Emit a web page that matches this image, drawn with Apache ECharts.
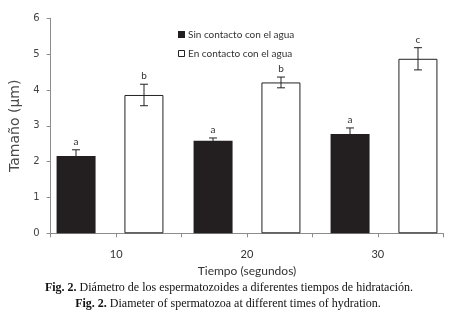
<!DOCTYPE html>
<html>
<head>
<meta charset="utf-8">
<script src="https://cdn.jsdelivr.net/npm/echarts@6/dist/echarts.min.js"></script>
<style>
  html, body { margin: 0; padding: 0; background: #fff; }
  #chart { width: 465px; height: 327px; }
</style>
</head>
<body>
<div id="chart"></div>
<script>
// datos
const categories = ['10', '20', '30'];
const sinContacto = [2.16, 2.58, 2.77];
const sinContactoErr = [0.17, 0.08, 0.17];
const sinContactoLetras = ['a', 'a', 'a'];
const enContacto = [3.86, 4.21, 4.87];
const enContactoErr = [0.30, 0.15, 0.31];
const enContactoLetras = ['b', 'b', 'c'];
const yTicks = [0, 1, 2, 3, 4, 5, 6];

const chart = echarts.init(document.getElementById('chart'));

const barW = 39;
const half = (barW + 29) / 2; // distancia del centro de grupo al centro de barra

const errData = [];
categories.forEach((c, i) => {
  errData.push([i, sinContacto[i], sinContactoErr[i], -1, sinContactoLetras[i]]);
  errData.push([i, enContacto[i], enContactoErr[i], 1, enContactoLetras[i]]);
});

const gray = '#8c8c8c';

const option = {
  backgroundColor: '#fff',
  animation: false,
  grid: [
    // barras
    { left: 41.5, right: 12.5, top: 18.3, bottom: 93.7 },
    // ejes visibles
    { left: 50.7, right: 21.7, top: 18.3, bottom: 93.7 }
  ],
  xAxis: [
    { gridIndex: 0, type: 'category', data: categories, show: false },
    {
      gridIndex: 1, type: 'value', min: 0, max: 6, interval: 1,
      axisLine: { show: true, lineStyle: { color: gray, width: 1 } },
      axisTick: { show: true, length: 4, lineStyle: { color: gray } },
      splitLine: { show: false },
      axisLabel: {
        margin: 16, color: '#333', fontFamily: 'Lato', fontSize: 11,
        formatter: v => (v % 2 === 1 ? categories[(v - 1) / 2] : '')
      },
      name: 'Tiempo (segundos)', nameLocation: 'middle', nameGap: 28,
      nameTextStyle: { color: '#333', fontFamily: 'Lato', fontSize: 12 }
    }
  ],
  yAxis: [
    { gridIndex: 0, type: 'value', min: 0, max: 6, show: false },
    {
      gridIndex: 1, type: 'value', min: 0, max: 6, interval: 1,
      axisLine: { show: true, lineStyle: { color: gray, width: 1 } },
      axisTick: { show: true, length: 4, lineStyle: { color: gray } },
      splitLine: { show: false },
      axisLabel: {
        margin: 11, color: '#444', fontFamily: 'DejaVu Sans', fontSize: 10,
        formatter: v => (yTicks.includes(v) ? String(v) : '')
      },
      name: 'Tamaño (µm)', nameLocation: 'middle', nameGap: 26, nameRotate: 90,
      nameTextStyle: { color: '#4a4a4a', fontFamily: 'DejaVu Sans', fontSize: 14 }
    }
  ],
  series: [
    {
      name: 'Sin contacto con el agua', type: 'bar', xAxisIndex: 0, yAxisIndex: 0,
      data: sinContacto, barWidth: barW, barGap: '74%',
      itemStyle: { color: '#231f20' }
    },
    {
      name: 'En contacto con el agua', type: 'bar', xAxisIndex: 0, yAxisIndex: 0,
      data: enContacto, barWidth: barW,
      itemStyle: { color: '#fff', borderColor: '#222', borderWidth: 1 }
    },
    {
      type: 'custom', xAxisIndex: 0, yAxisIndex: 0, z: 10,
      data: errData,
      renderItem: (params, api) => {
        const idx = api.value(0), v = api.value(1), e = api.value(2), s = api.value(3);
        const hi = api.coord([idx, v + e]);
        const lo = api.coord([idx, v - e]);
        const x = hi[0] + s * half;
        const cap = 4;
        const st = { stroke: '#222', lineWidth: 1 };
        return {
          type: 'group',
          children: [
            { type: 'line', shape: { x1: x, y1: hi[1], x2: x, y2: lo[1] }, style: st },
            { type: 'line', shape: { x1: x - cap, y1: hi[1], x2: x + cap, y2: hi[1] }, style: st },
            { type: 'line', shape: { x1: x - cap, y1: lo[1], x2: x + cap, y2: lo[1] }, style: st },
            {
              type: 'text', x: x, y: hi[1] - 3,
              style: {
                text: errData[params.dataIndex][4], fill: '#333',
                font: '10px Lato', align: 'center', verticalAlign: 'bottom'
              }
            }
          ]
        };
      }
    }
  ],
  graphic: [
    { type: 'rect', shape: { x: 178, y: 31, width: 7, height: 7 }, style: { fill: '#231f20' } },
    { type: 'text', x: 188, y: 35, style: { text: 'Sin contacto con el agua', font: '10px Lato', fill: '#333', verticalAlign: 'middle' } },
    { type: 'rect', shape: { x: 178.5, y: 50.5, width: 6, height: 6 }, style: { fill: '#fff', stroke: '#222', lineWidth: 1 } },
    { type: 'text', x: 188, y: 54, style: { text: 'En contacto con el agua', font: '10px Lato', fill: '#333', verticalAlign: 'middle' } },
    {
      type: 'text', x: 229, y: 288,
      style: {
        text: '{b|Fig. 2.} Diámetro de los espermatozoides a diferentes tiempos de hidratación.',
        align: 'center', verticalAlign: 'middle', fill: '#111',
        font: '12px "Liberation Serif"',
        rich: { b: { fontWeight: 'bold', fontFamily: 'Liberation Serif', fontSize: 12, fill: '#111' } }
      }
    },
    {
      type: 'text', x: 228, y: 304,
      style: {
        text: '{b|Fig. 2.} Diameter of spermatozoa at different times of hydration.',
        align: 'center', verticalAlign: 'middle', fill: '#111',
        font: '12px "Liberation Serif"',
        rich: { b: { fontWeight: 'bold', fontFamily: 'Liberation Serif', fontSize: 12, fill: '#111' } }
      }
    }
  ]
};

chart.setOption(option);
</script>
</body>
</html>
